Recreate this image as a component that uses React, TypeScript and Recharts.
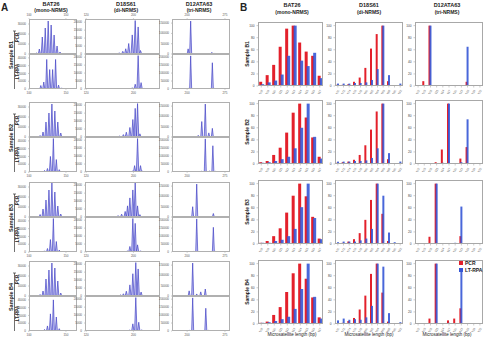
import React from 'react';
import { AreaChart, Area, XAxis, YAxis, BarChart, Bar } from 'recharts';

const FONT = '"Liberation Sans", Arial, sans-serif';

// ---------- Panel A: electropherogram peaks [size (bp), signal (RFU)] ----------
const bat26PcrB1 = [[110, 1000], [114, 5000], [118, 17000], [122, 26000], [126, 33000], [130, 29000], [134, 19000], [138, 8000], [142, 2000]];
const bat26RpaB1 = [[116, 4500], [120, 9000], [124, 38000], [128, 25000], [132, 25000], [136, 38000], [140, 5000], [144, 1500]];
const bat26PcrB2 = [[115, 1500], [119, 5000], [123, 15000], [127, 24000], [131, 33000], [135, 26000], [139, 15000], [143, 4000]];
const bat26RpaB2 = [[121, 2000], [125, 4500], [129, 20000], [133, 43000], [137, 16000], [141, 3000]];
const bat26PcrB3 = [[115, 2500], [119, 8000], [123, 17000], [127, 27000], [131, 34000], [135, 25000], [139, 11000], [143, 3000]];
const bat26RpaB3 = [[121, 1500], [125, 4500], [129, 16000], [133, 43000], [137, 13500], [141, 2500]];
const bat26PcrB4 = [[115, 1500], [119, 5000], [123, 17000], [127, 26000], [131, 33000], [135, 28000], [139, 15000], [143, 3000]];
const bat26RpaB4 = [[121, 2000], [125, 6500], [129, 22000], [133, 40000], [137, 18000], [141, 3000]];

const d18PcrB1 = [[176, 800], [182, 1700], [187, 3300], [192, 6600], [198, 12000], [203, 21000], [208, 17000], [212, 2200]];
const d18RpaB1 = [[198, 800], [203, 3000], [208, 21000], [213, 4000], [218, 500]];
const d18PcrB2 = [[177, 700], [183, 1500], [188, 3000], [194, 6000], [199, 11000], [203, 18000], [207, 21000], [211, 2000]];
const d18RpaB2 = [[198, 600], [202, 4000], [207, 21000], [212, 4000], [216, 600]];
const d18PcrB3 = [[174, 900], [180, 1800], [186, 3500], [190, 7000], [194, 12000], [199, 17000], [203, 21500], [207, 7000], [211, 1500]];
const d18RpaB3 = [[190, 800], [194, 3500], [199, 21000], [203, 18000], [207, 4500], [212, 800]];
const d18PcrB4 = [[178, 700], [183, 1400], [188, 3000], [194, 7000], [199, 14000], [204, 21000], [208, 17000], [213, 2500]];
const d18RpaB4 = [[194, 700], [199, 4500], [204, 21000], [209, 5500], [214, 800]];

const d12PcrB1 = [[202, 25000], [207, 160000], [249, 8000], [254, 5000]];
const d12RpaB1 = [[202, 5000], [207, 208000], [250, 165000], [255, 4000]];
const d12PcrB2 = [[222, 8000], [229, 75000], [236, 160000], [243, 20000], [250, 42000]];
const d12RpaB2 = [[229, 5000], [236, 208000], [244, 6000], [251, 165000], [256, 4000]];
const d12PcrB3 = [[211, 50000], [219, 160000], [252, 17000]];
const d12RpaB3 = [[212, 4000], [219, 208000], [252, 155000], [257, 4000]];
const d12PcrB4 = [[204, 25000], [211, 160000], [219, 10000], [227, 20000], [236, 34000]];
const d12RpaB4 = [[205, 4000], [211, 208000], [237, 143000], [242, 4000]];

// axis ranges / tick labels for panel A
const bat26SizeRange = [100, 165];
const bat26SizeTicks = [100, 150];
const d18SizeRange = [118, 245];
const d18SizeTicks = [120, 200];
const d12SizeRange = [170, 285];
const d12SizeTicks = [200, 275];
const bat26PcrMax = 35000;
const bat26PcrTicks = [0, 10000, 20000, 30000];
const bat26RpaMax = 45000;
const bat26RpaTicks = [0, 10000, 20000, 30000, 40000];
const d18Max = 22000;
const d18Ticks = [0, 5000, 10000, 15000, 20000];
const d12PcrMax = 170000;
const d12PcrTicks = [0, 50000, 100000, 150000];
const d12RpaMax = 220000;
const d12RpaTicks = [0, 50000, 100000, 150000, 200000];

// ---------- Panel B: relative peak height (%) ----------
const bat26Lengths = ['108', '109', '110', '111', '112', '113', '114', '115', '116', '117'];
const d18Lengths = ['170', '172', '174', '176', '178', '180', '182', '184', '186', '188', '190', '192'];
const d12Lengths = ['102', '105', '108', '111', '114', '117', '120', '123', '126', '129', '132'];
const pctTicks = [0, 20, 40, 60, 80, 100];
const pctMax = 106;

const bat26PcrPctB1 = [7, 18, 35, 65, 95, 100, 72, 57, 50, 17];
const bat26RpaPctB1 = [3, 6, 9, 19, 50, 100, 42, 33, 55, 13];
const bat26PcrPctB2 = [3, 5, 15, 27, 52, 85, 100, 77, 44, 12];
const bat26RpaPctB2 = [2, 3, 5, 8, 12, 26, 60, 100, 45, 9];
const bat26PcrPctB3 = [2, 5, 13, 26, 52, 80, 100, 79, 45, 9];
const bat26RpaPctB3 = [2, 2, 5, 7, 13, 25, 61, 100, 43, 8];
const bat26PcrPctB4 = [2, 4, 15, 28, 53, 84, 100, 75, 44, 11];
const bat26RpaPctB4 = [2, 3, 5, 8, 12, 25, 58, 100, 45, 9];

const d18PcrPctB1 = [2, 2, 3, 7, 14, 30, 62, 86, 100, 8, 0, 0];
const d18RpaPctB1 = [4, 4, 4, 5, 5, 6, 10, 28, 100, 18, 0, 4];
const d18PcrPctB2 = [2, 3, 4, 7, 15, 31, 57, 87, 100, 8, 0, 0];
const d18RpaPctB2 = [4, 4, 4, 5, 5, 6, 10, 26, 100, 18, 0, 4];
const d18PcrPctB3 = [1, 2, 4, 8, 18, 40, 73, 100, 50, 5, 0, 0];
const d18RpaPctB3 = [3, 4, 4, 4, 6, 9, 25, 100, 80, 19, 3, 1];
const d18PcrPctB4 = [1, 2, 5, 10, 24, 47, 83, 100, 52, 4, 0, 0];
const d18RpaPctB4 = [6, 9, 7, 8, 7, 11, 30, 100, 95, 18, 0, 3];

const d12PcrPctB1 = [0, 8, 100, 1, 0, 0, 0, 0, 7, 0, 0];
const d12RpaPctB1 = [0, 1, 100, 1, 1, 0, 1, 1, 65, 1, 0];
const d12PcrPctB2 = [0, 0, 0, 3, 24, 100, 1, 9, 28, 1, 0];
const d12RpaPctB2 = [0, 0, 0, 1, 2, 100, 1, 3, 74, 1, 0];
const d12PcrPctB3 = [0, 0, 12, 100, 1, 1, 1, 13, 0, 0, 0];
const d12RpaPctB3 = [0, 1, 1, 100, 1, 1, 2, 62, 1, 0, 0];
const d12PcrPctB4 = [0, 0, 9, 100, 0, 6, 9, 26, 1, 0, 0];
const d12RpaPctB4 = [0, 0, 1, 100, 1, 2, 1, 88, 1, 1, 0];

const samples = ['Sample B1', 'Sample B2', 'Sample B3', 'Sample B4'];
const markers = [
  { name: 'BAT26', type: '(mono-NRMS)' },
  { name: 'D18S61', type: '(di-NRMS)' },
  { name: 'D12ATA63', type: '(tri-NRMS)' },
];

// ---------- layout ----------
const A_COLS = [
  { left: 29, width: 48, range: bat26SizeRange, ticks: bat26SizeTicks, w: 1.4, center: 51 },
  { left: 85, width: 75, range: d18SizeRange, ticks: d18SizeTicks, w: 2, center: 126 },
  { left: 172, width: 58, range: d12SizeRange, ticks: d12SizeTicks, w: 2, center: 199 },
];
const A_TOPS = [19, 102, 182, 261];
const A_H = 35;

const B_COLS = [
  { left: 258, width: 65, center: 292 },
  { left: 335, width: 68, center: 369 },
  { left: 415, width: 68, center: 447 },
];
const B_TOPS = [22, 100, 180, 260];
const B_H = 64;
const PAD = 2;

const A_TRACES = [
  [[bat26PcrB1, bat26RpaB1], [d18PcrB1, d18RpaB1], [d12PcrB1, d12RpaB1]],
  [[bat26PcrB2, bat26RpaB2], [d18PcrB2, d18RpaB2], [d12PcrB2, d12RpaB2]],
  [[bat26PcrB3, bat26RpaB3], [d18PcrB3, d18RpaB3], [d12PcrB3, d12RpaB3]],
  [[bat26PcrB4, bat26RpaB4], [d18PcrB4, d18RpaB4], [d12PcrB4, d12RpaB4]],
];
const A_Y = [
  [[bat26PcrMax, bat26PcrTicks], [bat26RpaMax, bat26RpaTicks]],
  [[d18Max, d18Ticks], [d18Max, d18Ticks]],
  [[d12PcrMax, d12PcrTicks], [d12RpaMax, d12RpaTicks]],
];

const B_DATA = [
  [[bat26PcrPctB1, bat26RpaPctB1], [d18PcrPctB1, d18RpaPctB1], [d12PcrPctB1, d12RpaPctB1]],
  [[bat26PcrPctB2, bat26RpaPctB2], [d18PcrPctB2, d18RpaPctB2], [d12PcrPctB2, d12RpaPctB2]],
  [[bat26PcrPctB3, bat26RpaPctB3], [d18PcrPctB3, d18RpaPctB3], [d12PcrPctB3, d12RpaPctB3]],
  [[bat26PcrPctB4, bat26RpaPctB4], [d18PcrPctB4, d18RpaPctB4], [d12PcrPctB4, d12RpaPctB4]],
];
const B_CATS = [bat26Lengths, d18Lengths, d12Lengths];

const RED = '#e3202b';
const BLUE = '#3556d6';

function buildTrace(peaks: number[][], range: number[], w: number) {
  const pts: { x: number; y: number }[] = [{ x: range[0], y: 0 }];
  peaks.forEach(([p, h]) => {
    pts.push({ x: p - w, y: 0 }, { x: p, y: h }, { x: p + w, y: 0 });
  });
  pts.push({ x: range[1], y: 0 });
  return pts.sort((a, b) => a.x - b.x);
}

function Trace(props: any) {
  const { left, top, width, height, peaks, range, xTicks, yMax, yTicks, axis, w } = props;
  const data = buildTrace(peaks, range, w);
  const yw = 22;
  const axH = 6;
  const mt = axis === 'top' ? axH : 0;
  const mb = axis === 'bottom' ? axH : 0;
  return (
    <div style={{ position: 'absolute', left: left - yw, top: top - mt - PAD }}>
      <AreaChart width={width + yw + 4} height={height + mt + mb + 2 * PAD} data={data}
        margin={{ top: PAD, right: 4, bottom: PAD, left: 0 }}>
        <XAxis type="number" dataKey="x" domain={range} ticks={xTicks} allowDataOverflow
          hide={axis === 'none'} orientation={axis === 'top' ? 'top' : 'bottom'} height={axH}
          tick={{ fontSize: 3, fill: '#555', fontFamily: FONT }} tickSize={0.8} axisLine={false}
          tickLine={{ stroke: '#999', strokeWidth: 0.5 }} interval={0} />
        <YAxis type="number" domain={[0, yMax]} ticks={yTicks} width={yw} allowDataOverflow
          tick={{ fontSize: 3, fill: '#555', fontFamily: FONT }} tickSize={1} axisLine={false}
          tickLine={{ stroke: '#999', strokeWidth: 0.5 }} interval={0} />
        <Area type="linear" dataKey="y" stroke="#4343c6" strokeWidth={0.7} fill="#8d8de6"
          fillOpacity={0.55} isAnimationActive={false} dot={false} activeDot={false} />
      </AreaChart>
      <div style={{ position: 'absolute', left: yw, top: mt + PAD, width, height, border: '1px solid #b0b0b0', boxSizing: 'border-box', pointerEvents: 'none' }} />
    </div>
  );
}

function Bars(props: any) {
  const { left, top, width, height, cats, pcr, lt } = props;
  const data = cats.map((c: string, i: number) => ({ len: c, pcr: pcr[i], lt: lt[i] }));
  const yw = 12;
  const xh = 8;
  return (
    <div style={{ position: 'absolute', left: left - yw, top: top - PAD }}>
      <BarChart width={width + yw} height={height + xh + PAD} data={data}
        margin={{ top: PAD, right: 0, bottom: 0, left: 0 }} barCategoryGap="18%" barGap={-1}>
        <XAxis dataKey="len" interval={0} height={xh} angle={-60}
          tick={{ fontSize: 3, fill: '#555', fontFamily: FONT, textAnchor: 'end' }} tickSize={1.5}
          axisLine={false} tickLine={{ stroke: '#999', strokeWidth: 0.5 }} />
        <YAxis type="number" domain={[0, pctMax]} ticks={pctTicks} width={yw} interval={0}
          tick={{ fontSize: 3.2, fill: '#444', fontFamily: FONT }} tickSize={1.5} axisLine={false}
          tickLine={{ stroke: '#999', strokeWidth: 0.5 }} />
        <Bar dataKey="pcr" fill={RED} isAnimationActive={false} />
        <Bar dataKey="lt" fill={BLUE} fillOpacity={0.9} isAnimationActive={false} />
      </BarChart>
      <div style={{ position: 'absolute', left: yw, top: PAD, width, height, border: '1px solid #a8a8a8', boxSizing: 'border-box', pointerEvents: 'none' }} />
    </div>
  );
}

export default function App() {
  const traces: React.ReactNode[] = [];
  A_TOPS.forEach((gt, g) => {
    A_COLS.forEach((col, c) => {
      [0, 1].forEach((k) => {
        const axis = k === 1 ? 'bottom' : g === 0 ? 'top' : 'none';
        traces.push(
          <Trace key={`a-${g}-${c}-${k}`} left={col.left} top={gt + k * A_H} width={col.width} height={A_H}
            peaks={A_TRACES[g][c][k]} range={col.range} xTicks={col.ticks} w={col.w}
            yMax={A_Y[c][k][0]} yTicks={A_Y[c][k][1]} axis={axis} />
        );
      });
    });
  });

  const bars: React.ReactNode[] = [];
  B_TOPS.forEach((rt, r) => {
    B_COLS.forEach((col, c) => {
      bars.push(
        <Bars key={`b-${r}-${c}`} left={col.left} top={rt} width={col.width} height={B_H}
          cats={B_CATS[c]} pcr={B_DATA[r][c][0]} lt={B_DATA[r][c][1]} />
      );
    });
  });

  return (
    <div style={{ position: 'absolute', left: 0, top: 0, width: 485, height: 337, background: '#fff', overflow: 'hidden', fontFamily: FONT }}>
      {traces}
      {bars}
      <svg width={485} height={337} style={{ position: 'absolute', left: 0, top: 0, pointerEvents: 'none' }}>
        <g fontFamily={FONT} fill="#222">
          <text x={1} y={10.5} fontSize={10} fontWeight="bold">A</text>
          <text x={240} y={10.5} fontSize={10} fontWeight="bold">B</text>
          {markers.map((m, i) => (
            <g key={`ta${i}`}>
              <text x={A_COLS[i].center} y={6} fontSize={5.5} fontWeight="bold" textAnchor="middle">{m.name}</text>
              <text x={A_COLS[i].center} y={11.5} fontSize={5} fontWeight="bold" textAnchor="middle">{m.type}</text>
              <text x={B_COLS[i].center} y={7} fontSize={5.5} fontWeight="bold" textAnchor="middle">{m.name}</text>
              <text x={B_COLS[i].center} y={13.5} fontSize={5} fontWeight="bold" textAnchor="middle">{m.type}</text>
              <text x={B_COLS[i].center} y={335.5} fontSize={4.5} textAnchor="middle">Microsatellite length (bp)</text>
            </g>
          ))}
          {samples.map((s, g) => {
            const ta = A_TOPS[g];
            const tb = B_TOPS[g];
            return (
              <g key={`s${g}`}>
                <text transform={`translate(12.5,${ta + 36}) rotate(-90)`} fontSize={5.5} fontWeight="bold" textAnchor="middle">{s}</text>
                <line x1={14.5} x2={14.5} y1={ta + 12} y2={ta + 2 * A_H} stroke="#333" strokeWidth={0.7} />
                <line x1={13} x2={16} y1={ta + 12} y2={ta + 12} stroke="#333" strokeWidth={0.7} />
                <text transform={`translate(19,${ta + A_H / 2 + 1}) rotate(-90)`} fontSize={4.5} fontWeight="bold" textAnchor="middle">PCR</text>
                <text transform={`translate(19,${ta + A_H * 1.5}) rotate(-90)`} fontSize={4.5} fontWeight="bold" textAnchor="middle">LT-RPA</text>
                <text transform={`translate(249,${tb + B_H / 2}) rotate(-90)`} fontSize={5} fontWeight="bold" textAnchor="middle">{s}</text>
              </g>
            );
          })}
          <rect x={459} y={261} width={4} height={4} fill={RED} />
          <text x={465} y={264.8} fontSize={5} fontWeight="bold">PCR</text>
          <rect x={459} y={268} width={4} height={4} fill={BLUE} />
          <text x={465} y={271.8} fontSize={5} fontWeight="bold">LT-RPA</text>
        </g>
      </svg>
    </div>
  );
}
